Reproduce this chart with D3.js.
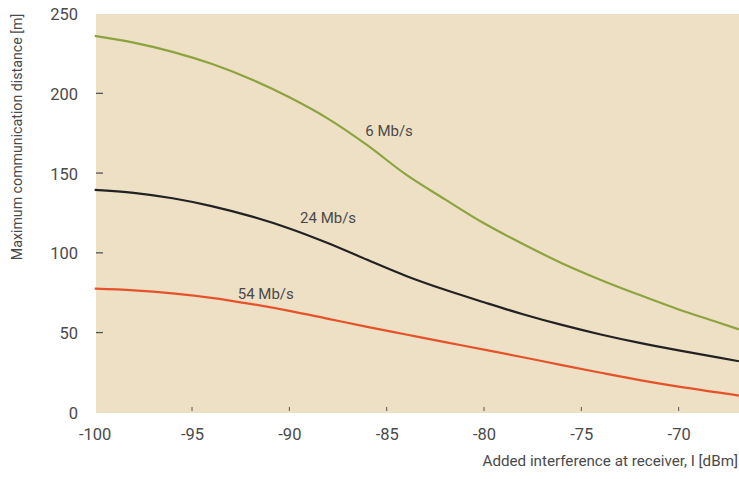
<!DOCTYPE html>
<html>
<head>
<meta charset="utf-8">
<script src="https://cdn.jsdelivr.net/npm/d3@7"></script>
<style>
  html, body { margin: 0; padding: 0; background: #ffffff; }
  svg { display: block; }
  text { font-family: Roboto, "Open Sans", sans-serif; fill: #4a4a4a; }
</style>
</head>
<body>
<svg id="chart" width="739" height="479"></svg>
<script>
// Interference levels (dBm) at which each curve is sampled
const interference = [-100, -98, -96, -94, -92, -90, -88, -86, -84, -82, -80, -78, -76, -74, -72, -70, -68, -66.9];

// Maximum communication distance (m) for each data rate
const dist6 = [236, 231.8, 226, 218.5, 209, 197.5, 184, 167.5, 149, 133.5, 118.5, 105.5, 93.5, 83, 73.5, 64.5, 56.5, 52];
const dist24 = [139.5, 137.6, 134.2, 129.3, 123, 115.3, 106, 95.6, 85.5, 76.8, 69, 61.5, 54.8, 48.8, 43.5, 38.8, 34.4, 32];
const dist54 = [77.5, 76.5, 74.6, 71.8, 68, 63.6, 58.6, 53.6, 48.8, 44, 39.3, 34.5, 29.6, 24.8, 20.2, 16.1, 12.5, 10.5];

const seriesNames = ["6 Mb/s", "24 Mb/s", "54 Mb/s"];
const seriesColors = ["#8da33f", "#222222", "#e5522a"];
// Where each curve's name sits (interference, distance)
const labelAnchors = [[-86.1, 173.3], [-89.45, 118.7], [-92.65, 71.1]];

const xTicks = [-100, -95, -90, -85, -80, -75, -70];
const yTicks = [0, 50, 100, 150, 200, 250];

const svg = d3.select("#chart");
const plot = { left: 96, right: 739, top: 14, bottom: 413 };

const x = d3.scaleLinear().domain([-100, -66.9]).range([94.7, 739]);
const y = d3.scaleLinear().domain([0, 250]).range([412.3, 13.6]);

// Plot background
svg.append("rect")
  .attr("x", plot.left).attr("y", plot.top)
  .attr("width", plot.right - plot.left).attr("height", plot.bottom - plot.top)
  .attr("fill", "#eee0c5");

// Y axis: labels outside, short tick marks just inside the plot
const yAxis = d3.axisLeft(y).tickValues(yTicks).tickSize(0).tickPadding(18);
const gy = svg.append("g").attr("transform", `translate(${plot.left},0)`).call(yAxis);
gy.select(".domain").remove();
gy.selectAll("text").attr("font-size", 16.5).attr("dy", "0.36em");

svg.append("g").selectAll("line")
  .data(yTicks.filter(v => v > 0 && v < 250))
  .join("line")
  .attr("x1", plot.left).attr("x2", plot.left + 7)
  .attr("y1", d => y(d)).attr("y2", d => y(d))
  .attr("stroke", "#555").attr("stroke-width", 1.3);

// X axis: labels below (plain hyphen for the sign), tiny tick marks at the plot bottom
const xAxis = d3.axisBottom(x).tickValues(xTicks).tickSize(0).tickPadding(15)
  .tickFormat(d => String(d));
const gx = svg.append("g").attr("transform", `translate(0,${plot.bottom})`).call(xAxis);
gx.select(".domain").remove();
gx.selectAll("text").attr("font-size", 16.5);

svg.append("g").selectAll("line")
  .data(xTicks.filter(v => v > -100))
  .join("line")
  .attr("x1", d => x(d)).attr("x2", d => x(d))
  .attr("y1", plot.bottom - 6).attr("y2", plot.bottom - 2)
  .attr("stroke", "#555").attr("stroke-width", 1);

// Curves
const series = [dist6, dist24, dist54];
const line = d3.line()
  .x((d, i) => x(interference[i]))
  .y(d => y(d))
  .curve(d3.curveMonotoneX);

svg.append("g")
  .selectAll("path")
  .data(series)
  .join("path")
  .attr("d", d => line(d))
  .attr("fill", "none")
  .attr("stroke", (d, i) => seriesColors[i])
  .attr("stroke-width", 2.2);

// Curve names
svg.append("g").selectAll("text")
  .data(seriesNames)
  .join("text")
  .attr("x", (d, i) => x(labelAnchors[i][0]))
  .attr("y", (d, i) => y(labelAnchors[i][1]))
  .attr("font-size", 15)
  .text(d => d);

// Axis titles
svg.append("text")
  .attr("transform", "translate(22,137) rotate(-90)")
  .attr("text-anchor", "middle")
  .attr("font-size", 14.2)
  .text("Maximum communication distance [m]");

svg.append("text")
  .attr("x", 738).attr("y", 466)
  .attr("text-anchor", "end")
  .attr("font-size", 15.2)
  .text("Added interference at receiver, I [dBm]");
</script>
</body>
</html>
